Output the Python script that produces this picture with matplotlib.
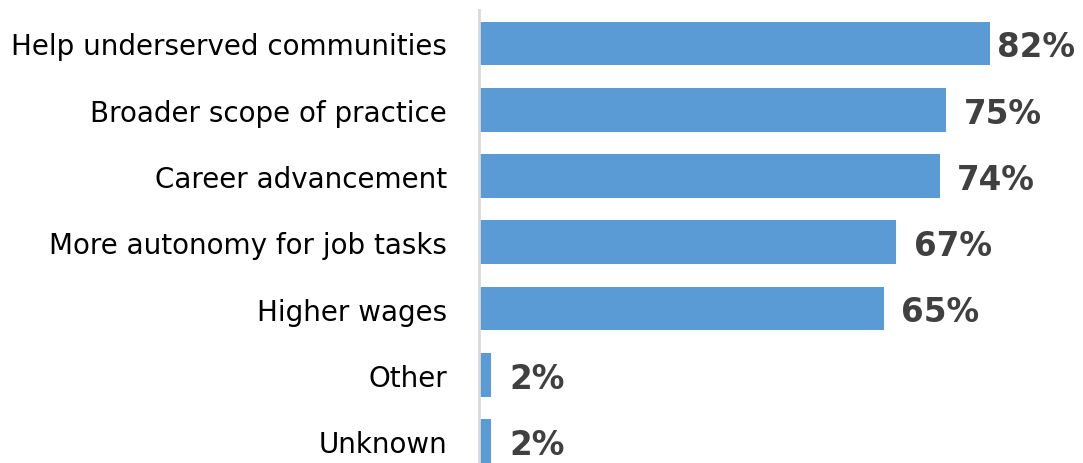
import matplotlib.pyplot as plt

reasons = ["Help underserved communities", "Broader scope of practice",
           "Career advancement", "More autonomy for job tasks",
           "Higher wages", "Other", "Unknown"]
shares = [82, 75, 74, 67, 65, 2, 2]

fig = plt.figure(figsize=(10.83, 4.64), dpi=100)
ax = fig.add_axes([0.4423, 0.0, 0.5577, 0.977])

y = list(range(len(reasons)))
ax.barh(y, shares, height=0.66, color="#5b9bd5")

# labels sit just right of the bar, pulled in when they'd run off the edge
for yi, v in zip(y, shares):
    ax.text(min(v + 2.8, 83.2), yi + 0.05, f"{v}%", va="center", ha="left",
            fontsize=23.5, fontweight="bold", color="#404040")

ax.set_xlim(0, 97)
ax.set_ylim(6.33, -0.51)
ax.set_yticks(y)
ax.set_yticklabels(reasons, fontsize=20, color="#000000")
ax.tick_params(axis="y", length=0, pad=23)
ax.set_xticks([])

for side in ["top", "right", "bottom"]:
    ax.spines[side].set_visible(False)
ax.spines["left"].set_color("#d9d9d9")
ax.spines["left"].set_linewidth(2)

fig.savefig("out.png", dpi=100)
